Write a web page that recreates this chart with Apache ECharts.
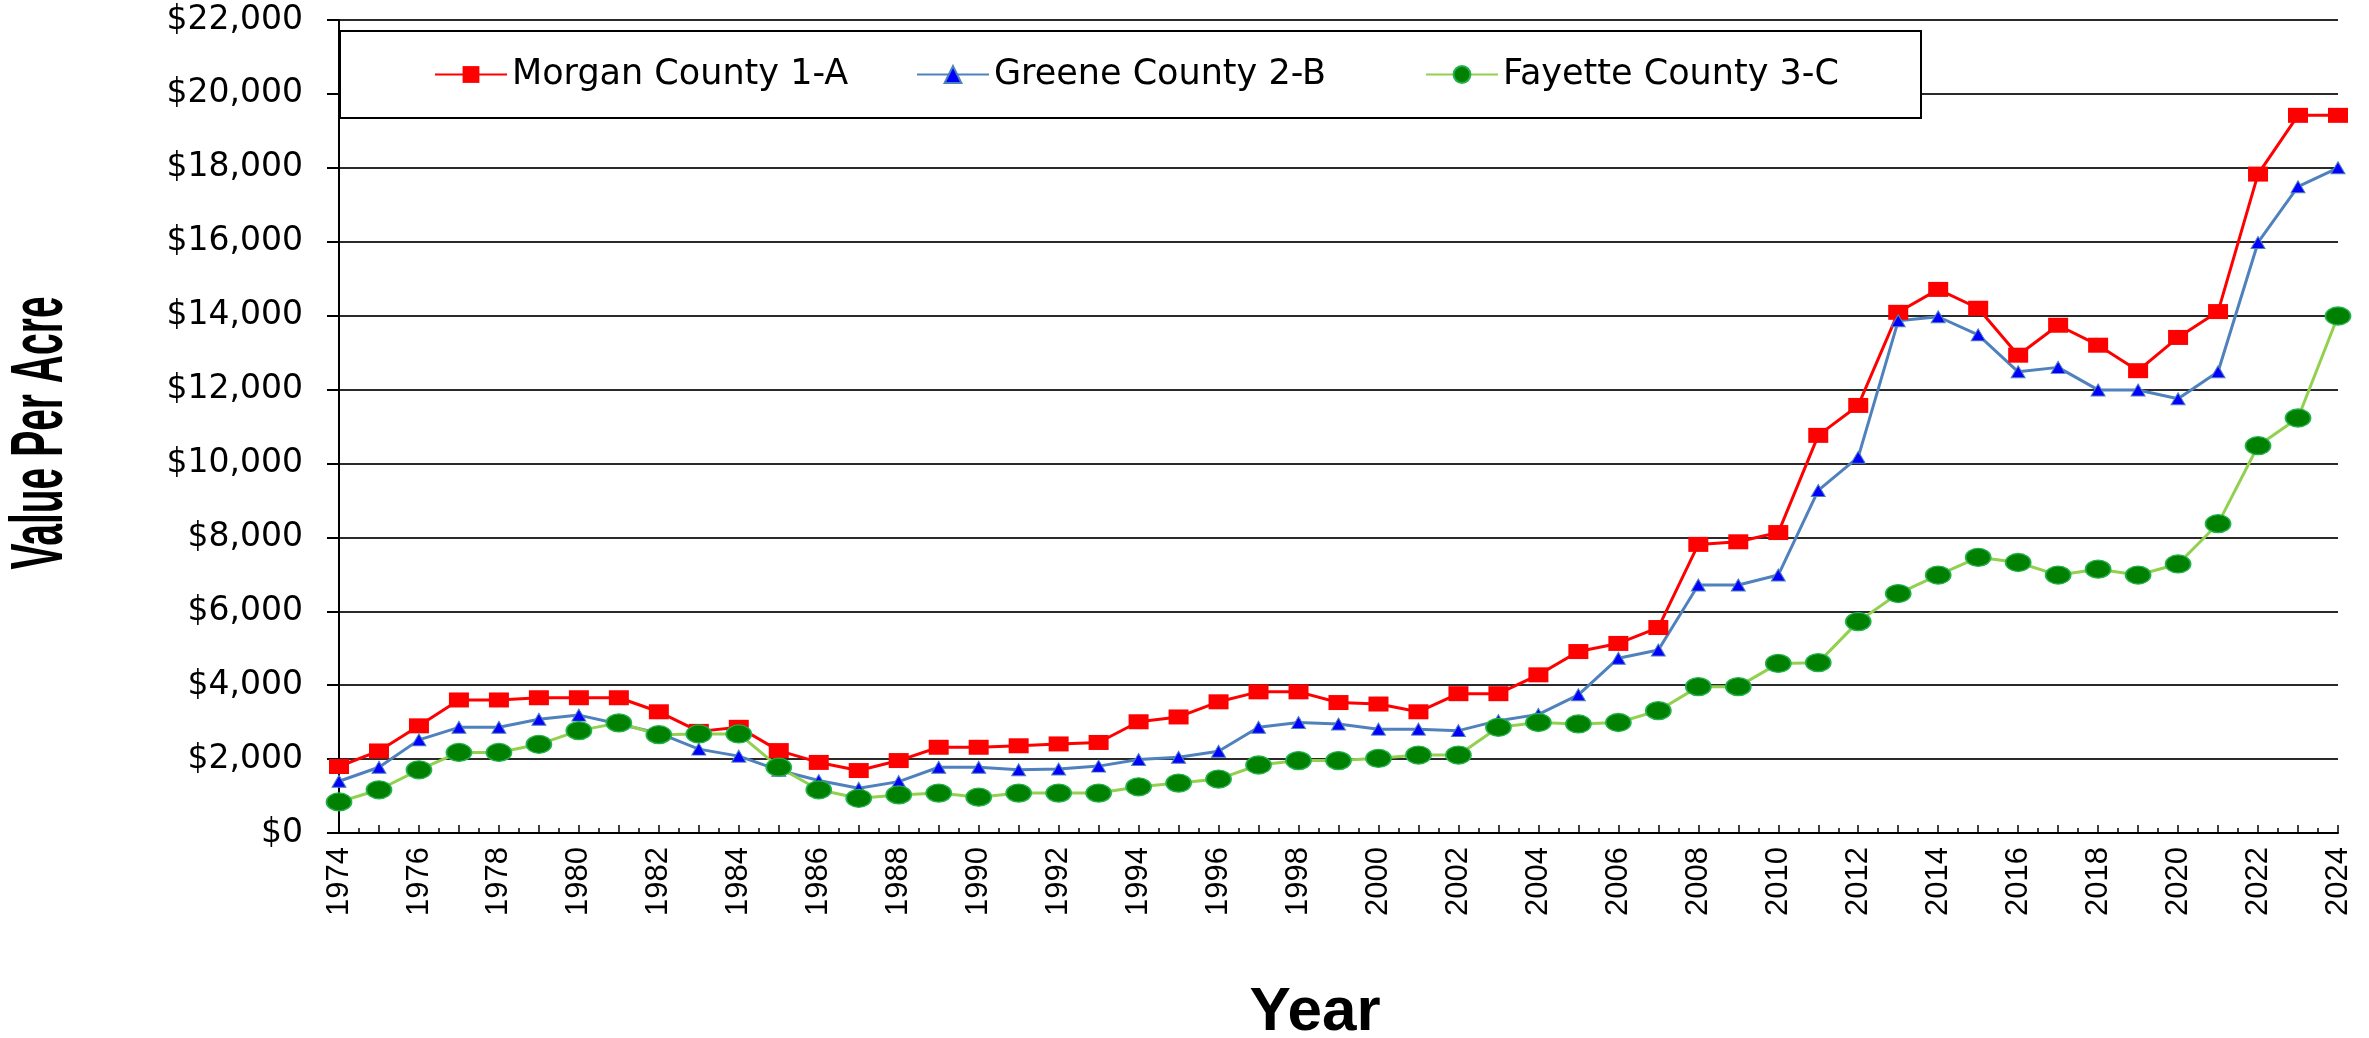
<!DOCTYPE html>
<html>
<head>
<meta charset="utf-8">
<script src="https://cdn.jsdelivr.net/npm/echarts@6/dist/echarts.min.js"></script>
<style>
  html, body { margin: 0; padding: 0; background: #fff; }
  #chart { width: 2369px; height: 1038px; }
</style>
</head>
<body>
<div id="chart"></div>
<script>
const years = [
  1974, 1975, 1976, 1977, 1978, 1979, 1980, 1981, 1982, 1983,
  1984, 1985, 1986, 1987, 1988, 1989, 1990, 1991, 1992, 1993,
  1994, 1995, 1996, 1997, 1998, 1999, 2000, 2001, 2002, 2003,
  2004, 2005, 2006, 2007, 2008, 2009, 2010, 2011, 2012, 2013,
  2014, 2015, 2016, 2017, 2018, 2019, 2020, 2021, 2022, 2023, 2024
]

const morgan = [
  1800, 2220, 2900, 3600, 3600, 3660, 3660, 3660, 3280, 2750,
  2860, 2230, 1910, 1690, 1960, 2320, 2320, 2360, 2410, 2450,
  3010, 3140, 3550, 3820, 3820, 3530, 3490, 3280, 3770, 3770,
  4280, 4910, 5130, 5560, 7810, 7880, 8130, 10760, 11570, 14090,
  14710, 14200, 12930, 13740, 13200, 12510, 13410, 14110, 17830, 19420, 19420
]

const greene = [
  1400, 1780, 2520, 2860, 2860, 3080, 3190, 2950, 2700, 2270,
  2080, 1700, 1420, 1210, 1390, 1780, 1780, 1710, 1730, 1810,
  1990, 2050, 2210, 2860, 2990, 2950, 2810, 2810, 2770, 3040,
  3210, 3740, 4730, 4950, 6710, 6710, 6980, 9270, 10170, 13860,
  13970, 13480, 12480, 12600, 11990, 11990, 11750, 12480, 15980, 17490, 18000
]

const fayette = [
  840, 1170, 1710, 2180, 2180, 2400, 2770, 2980, 2660, 2680,
  2680, 1780, 1170, 940, 1030, 1080, 970, 1080, 1080, 1080,
  1250, 1350, 1460, 1840, 1960, 1960, 2020, 2110, 2110, 2860,
  2990, 2950, 2990, 3310, 3960, 3960, 4590, 4610, 5720, 6480,
  6980, 7460, 7320, 6980, 7140, 6980, 7280, 8370, 10480, 11230, 13990
]

const seriesNames = ['Morgan County 1-A', 'Greene County 2-B', 'Fayette County 3-C']
const yTicks = [0, 2000, 4000, 6000, 8000, 10000, 12000, 14000, 16000, 18000, 20000, 22000]

const pairs = (vals) => vals.map((v, i) => [years[i], v])

const chart = echarts.init(document.getElementById('chart'))

const legendBase = {
  top: 57,
  padding: 0,
  itemWidth: 72,
  itemHeight: 21,
  selectedMode: false,
  z: 20,
  lineStyle: { width: 2 },
  textStyle: { fontFamily: 'DejaVu Sans', fontSize: 35, color: '#000' },
}

chart.setOption({
  animation: false,
  backgroundColor: '#fff',
  grid: { left: 339, right: 31, top: 20, bottom: 205, outerBoundsMode: 'none' },
  legend: [
    { ...legendBase, data: [seriesNames[0]], left: 434 },
    { ...legendBase, data: [seriesNames[1]], left: 916 },
    { ...legendBase, data: [seriesNames[2]], left: 1425 },
  ],
  graphic: [
    {
      type: 'rect',
      z: 10,
      shape: { x: 340, y: 31, width: 1581, height: 87 },
      style: { fill: '#fff', stroke: '#000', lineWidth: 2 },
    },
    {
      type: 'text',
      x: 41,
      y: 433,
      rotation: Math.PI / 2,
      scaleX: 0.52,
      style: {
        text: 'Value Per Acre',
        font: 'bold 75px "Liberation Sans"',
        fill: '#000',
        align: 'center',
        verticalAlign: 'middle',
      },
    },
    {
      type: 'text',
      x: 1315,
      y: 1013,
      style: {
        text: 'Year',
        font: 'bold 62px "Liberation Sans"',
        fill: '#000',
        align: 'center',
        verticalAlign: 'middle',
      },
    },
  ],
  xAxis: {
    type: 'value',
    min: years[0],
    max: years[years.length - 1],
    interval: 1,
    axisLine: { show: true, onZero: false, lineStyle: { color: '#000', width: 2 } },
    axisTick: { show: true, inside: true, length: 8, lineStyle: { color: '#000', width: 1.5 } },
    minorTick: { show: true, splitNumber: 2, length: 5, lineStyle: { color: '#000', width: 1.5 } },
    splitLine: { show: false },
    axisLabel: {
      rotate: 90,
      margin: 14,
      fontFamily: 'Liberation Sans',
      fontSize: 31,
      color: '#000',
      formatter: (v) => (v % 2 === 0 ? String(v) : ''),
    },
  },
  yAxis: {
    type: 'value',
    min: yTicks[0],
    max: yTicks[yTicks.length - 1],
    interval: 2000,
    axisLine: { show: true, lineStyle: { color: '#000', width: 2 } },
    axisTick: { show: true, length: 12, lineStyle: { color: '#000', width: 2 } },
    splitLine: { show: true, lineStyle: { color: '#2a2a2a', width: 2 } },
    axisLabel: {
      margin: 36,
      fontFamily: 'DejaVu Sans',
      fontSize: 33,
      color: '#000',
      formatter: (v) => '$' + v.toLocaleString('en-US'),
    },
  },
  series: [
    {
      name: seriesNames[0],
      type: 'line',
      data: pairs(morgan),
      symbol: 'rect',
      symbolSize: [20, 15],
      lineStyle: { color: '#ff0000', width: 3 },
      itemStyle: { color: '#ff0000' },
    },
    {
      name: seriesNames[1],
      type: 'line',
      data: pairs(greene),
      symbol: 'triangle',
      symbolSize: [14, 12],
      lineStyle: { color: '#4f81bd', width: 3 },
      itemStyle: { color: '#0000ff', borderColor: '#4f81bd', borderWidth: 1 },
    },
    {
      name: seriesNames[2],
      type: 'line',
      data: pairs(fayette),
      symbol: 'circle',
      symbolSize: [25, 18],
      lineStyle: { color: '#92d050', width: 3 },
      itemStyle: { color: '#008000', borderColor: '#22b14c', borderWidth: 1.5 },
    },
  ],
})
</script>
</body>
</html>
